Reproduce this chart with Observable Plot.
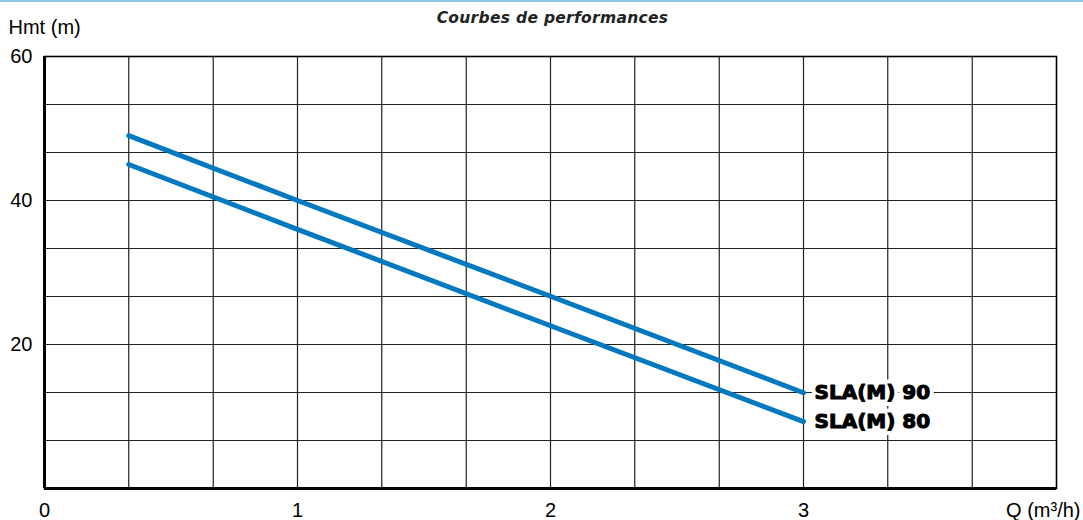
<!DOCTYPE html>
<html><head><meta charset="utf-8">
<script src="https://cdn.jsdelivr.net/npm/d3@7"></script>
<script src="https://cdn.jsdelivr.net/npm/@observablehq/plot@0.6"></script>
<style>
body{margin:0;background:#fff;}
#wrap{position:relative;width:1083px;height:520px;}
#topline{height:2px;background:#8cc8e8;position:absolute;top:0;left:0;width:1083px;z-index:2}
.ttl{letter-spacing:0.3px;}
</style>
</head><body><div id="wrap"><div id="topline"></div><div id="chart"></div></div>
<script>
const flow = [0.333, 1, 2, 3];
const sla90 = [49, 40, 26.7, 13.3];
const sla80 = [45, 36, 22.6, 9.3];
const seriesNames = ["SLA(M) 90", "SLA(M) 80"];
const seriesValues = [sla90, sla80];
const xTicks = [0, 1, 2, 3];
const yTicks = [20, 40, 60];
const xGrid = [0.333, 0.667, 1, 1.333, 1.667, 2, 2.333, 2.667, 3, 3.333, 3.667];
const yGrid = [6.667, 13.333, 20, 26.667, 33.333, 40, 46.667, 53.333];
const title = "Courbes de performances";
const yLabel = "Hmt (m)";
const xLabel = "Q (m\u00B3/h)";

const rows = [];
seriesNames.forEach((n, i) => flow.forEach((q, j) => rows.push({name: n, q, h: seriesValues[i][j]})));
const labels = seriesNames.map((n, i) => ({name: n, q: flow[flow.length - 1], h: seriesValues[i][flow.length - 1]}));

const labelFont = {textAnchor: "start", dx: 11, fontFamily: "'DejaVu Sans', sans-serif", fontWeight: "bold", fontSize: 20};

const chart = Plot.plot({
  width: 1083, height: 520,
  marginLeft: 44, marginRight: 27, marginTop: 56, marginBottom: 32,
  x: {domain: [0, 4]},
  y: {domain: [0, 60]},
  style: {fontFamily: "'Liberation Sans', Arial, sans-serif", fontSize: "20px", color: "#000", background: "white"},
  marks: [
    Plot.ruleX(xGrid, {stroke: "#222", strokeWidth: 1.2}),
    Plot.ruleY(yGrid, {stroke: "#222", strokeWidth: 1.2}),
    Plot.frame({stroke: "#000", strokeWidth: 1.6}),
    Plot.ruleX([0], {stroke: "#000", strokeWidth: 3}),
    Plot.ruleY([0], {stroke: "#000", strokeWidth: 3}),
    Plot.line(rows, {x: "q", y: "h", z: "name", stroke: "#0079c1", strokeWidth: 5}),
    Plot.text(labels, {x: "q", y: "h", text: "name", ...labelFont, fill: "white", stroke: "white", strokeWidth: 9}),
    Plot.text(labels, {x: "q", y: "h", text: "name", ...labelFont, fill: "#000", stroke: "#000", strokeWidth: 1.1}),
    Plot.axisX(xTicks, {tickSize: 0, tickPadding: 14, fontSize: 20, tickFormat: d => String(d), label: null}),
    Plot.axisY(yTicks, {tickSize: 0, tickPadding: 12, fontSize: 20, tickFormat: d => String(d), label: null}),
    Plot.text([yLabel], {frameAnchor: "top-left", dx: -36, dy: -23, lineAnchor: "bottom", textAnchor: "start", fontSize: 20}),
    Plot.text([xLabel], {frameAnchor: "bottom-right", dx: 24, dy: 28, lineAnchor: "bottom", textAnchor: "end", fontSize: 20}),
    Plot.text([title], {frameAnchor: "top", dx: 2, dy: -34, lineAnchor: "bottom", className: "ttl",
      fontFamily: "'DejaVu Sans', sans-serif", fontStyle: "italic", fontWeight: 600, fontSize: 15.5, fill: "#222"})
  ]
});
document.getElementById("chart").appendChild(chart);
</script>
</body></html>
